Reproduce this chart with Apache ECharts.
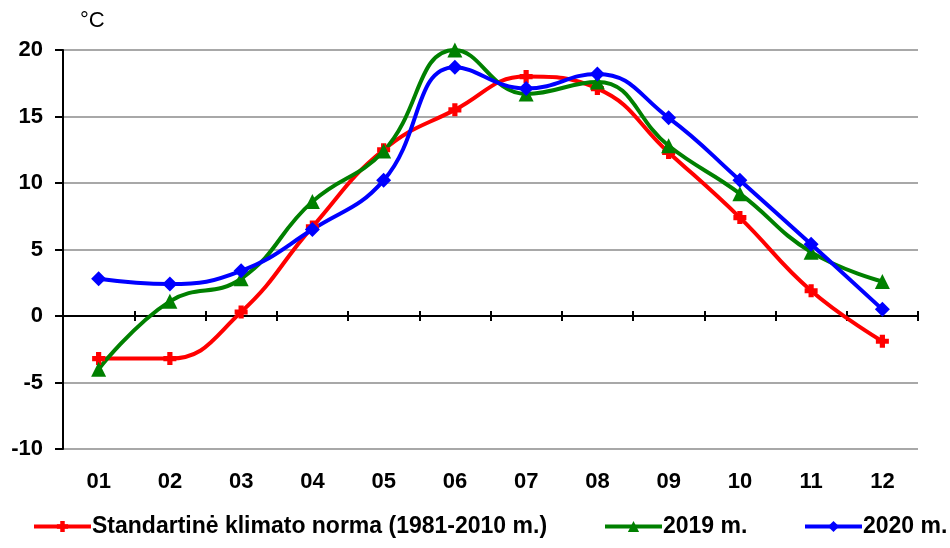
<!DOCTYPE html>
<html><head><meta charset="utf-8">
<script src="https://cdn.jsdelivr.net/npm/echarts@6/dist/echarts.min.js"></script>
<style>html,body{margin:0;padding:0;background:#fff}#c{width:950px;height:548px}</style>
</head><body><div id="c"></div>
<script>
var categories = ['01','02','03','04','05','06','07','08','09','10','11','12'];
var yTicks = [-10, -5, 0, 5, 10, 15, 20];
var normName = 'Standartinė klimato norma (1981-2010 m.)';
var y2019Name = '2019 m.';
var y2020Name = '2020 m.';
var normValues = [-3.2, -3.2, 0.3, 6.7, 12.5, 15.5, 18.0, 17.1, 12.3, 7.4, 1.9, -1.9];
var y2019Values = [-4.0, 1.1, 2.8, 8.6, 12.4, 20.0, 16.7, 17.6, 12.8, 9.2, 4.8, 2.6];
var y2020Values = [2.8, 2.4, 3.4, 6.5, 10.2, 18.7, 17.1, 18.2, 14.9, 10.2, 5.4, 0.5];

var crossPath = 'path://M3,0 L7,0 L7,3 L10,3 L10,7 L7,7 L7,10 L3,10 L3,7 L0,7 L0,3 L3,3 Z';
var font = 'Liberation Sans, Arial, sans-serif';

function mkSeries(name, data, color, symbol, size) {
  return {
    name: name, type: 'line', data: data, smooth: 0.45,
    xAxisIndex: 0, yAxisIndex: 0,
    symbol: symbol, symbolSize: size, showSymbol: true,
    lineStyle: {color: color, width: 4},
    itemStyle: {color: color},
    emphasis: {disabled: true},
    z: 3
  };
}
function mkLegend(name, left) {
  return {
    data: [name], left: left, bottom: 5, itemWidth: 57, itemHeight: 14, itemGap: 0,
    lineStyle: {width: 4},
    textStyle: {fontFamily: font, fontWeight: 'bold', fontSize: 23, color: '#000', padding: [0, 0, 0, -4]}
  };
}

var chart = echarts.init(document.getElementById('c'), null, {renderer: 'canvas'});
chart.setOption({
  animation: false,
  backgroundColor: '#fff',
  grid: [
    {left: 63, right: 32, top: 50, bottom: 99},
    {left: 63, right: 32, top: 45, bottom: 104}
  ],
  legend: [mkLegend(normName, 27), mkLegend(y2019Name, 598), mkLegend(y2020Name, 798)],
  graphic: [{
    type: 'text', left: 80, top: 10,
    style: {text: '°C', fontFamily: font, fontSize: 22, fill: '#000'}
  }],
  xAxis: [
    {type: 'category', data: categories, gridIndex: 0, position: 'bottom', boundaryGap: true,
     axisLine: {show: false, onZero: false}, axisTick: {show: false},
     axisLabel: {fontFamily: font, fontWeight: 'bold', fontSize: 22, color: '#000', margin: 22},
     splitLine: {show: false}},
    {type: 'category', data: categories, gridIndex: 0, position: 'bottom', boundaryGap: true,
     axisLine: {show: true, onZero: true, lineStyle: {color: '#000', width: 2}},
     axisTick: {show: true, inside: false, length: 5, lineStyle: {color: '#000', width: 2}},
     axisLabel: {show: false}, splitLine: {show: false}},
    {type: 'category', data: categories, gridIndex: 1, position: 'bottom', boundaryGap: true,
     axisLine: {show: false, onZero: true},
     axisTick: {show: true, inside: false, length: 5, lineStyle: {color: '#000', width: 2}},
     axisLabel: {show: false}, splitLine: {show: false}}
  ],
  yAxis: [
    {type: 'value', gridIndex: 0, min: yTicks[0], max: yTicks[yTicks.length - 1], interval: 5,
     axisLine: {show: true, lineStyle: {color: '#000', width: 2}},
     axisTick: {show: true, length: 8, lineStyle: {color: '#000', width: 2}},
     axisLabel: {fontFamily: font, fontWeight: 'bold', fontSize: 22, color: '#000', margin: 20},
     splitLine: {show: true, lineStyle: {color: '#a8a8a8', width: 2}}},
    {type: 'value', gridIndex: 1, min: yTicks[0], max: yTicks[yTicks.length - 1], interval: 5,
     axisLine: {show: false}, axisTick: {show: false}, axisLabel: {show: false},
     splitLine: {show: false}}
  ],
  series: [
    mkSeries(normName, normValues, '#ff0000', crossPath, 13),
    mkSeries(y2019Name, y2019Values, '#008000', 'triangle', 15),
    mkSeries(y2020Name, y2020Values, '#0000ff', 'diamond', 15)
  ]
});
</script></body></html>
